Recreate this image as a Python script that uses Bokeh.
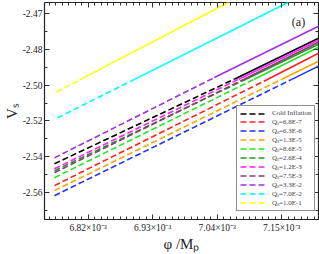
from bokeh.plotting import figure
from bokeh.models import (FixedTicker, LinearAxis, Label, Legend, LegendItem,
                          CustomJSTickFormatter, Range1d)
from bokeh.embed import file_html
from bokeh.resources import INLINE

# ---- data ----
labels = ["Cold Inflation", "Q\u209b=6.8E-7", "Q\u209b=6.3E-6", "Q\u209b=1.3E-5",
          "Q\u209b=8.6E-5", "Q\u209b=2.6E-4", "Q\u209b=1.2E-3", "Q\u209b=7.5E-3",
          "Q\u209b=3.3E-2", "Q\u209b=7.0E-2", "Q\u209b=1.0E-1"]
colors = ["#000000", "#ff2020", "#2030ff", "#ffa500", "#22e822", "#1f9a1f",
          "#ff20ff", "#884070", "#a030e0", "#00ffff", "#ffff00"]
phi_start = [6.7625e-3, 6.7625e-3, 6.7625e-3, 6.7625e-3, 6.7625e-3, 6.7625e-3,
             6.7625e-3, 6.7625e-3, 6.7625e-3, 6.7675e-3, 6.7659e-3]
phi_switch = [7.069e-3, 7.1246e-3, 7.167e-3, 7.150e-3, 7.103e-3, 7.089e-3,
              7.0766e-3, 7.0856e-3, 7.035e-3, 6.8945e-3, 6.8048e-3]
phi_end = [7.2126e-3] * 11
vs_start = [-2.5439, -2.5561, -2.5617, -2.5589, -2.5517, -2.5478,
            -2.5467, -2.5489, -2.5406, -2.5183, -2.5039]
vs_switch = [-2.4967, -2.4970, -2.4968, -2.4967, -2.4967, -2.4967,
             -2.4967, -2.4967, -2.4958, -2.4975, -2.4972]
vs_end = [-2.4739, -2.4822, -2.4894, -2.4867, -2.4789, -2.4772,
          -2.4750, -2.4761, -2.4672, -2.4453, -2.4276]

x_major = [6.82e-3, 6.93e-3, 7.04e-3, 7.15e-3]
y_major = [-2.46, -2.48, -2.50, -2.52, -2.54, -2.56]

FONT = "Liberation Serif"
INK = "#222222"

p = figure(width=319, height=254, output_backend="svg", toolbar_location=None,
           x_range=Range1d(6.7456e-3, 7.2126e-3), y_range=Range1d(-2.575, -2.4539),
           min_border_left=42, min_border_right=1, min_border_top=2, min_border_bottom=34,
           x_axis_location=None, y_axis_location=None)
p.xgrid.visible = False
p.ygrid.visible = False
p.outline_line_color = INK
p.outline_line_width = 1.2
p.background_fill_color = "white"
p.border_fill_color = "white"

x_minor = [6.82e-3 + i * 0.011e-3 for i in range(-7, 36)]
y_minor = [-2.45 - i * 0.01 for i in range(0, 13)]
xt = FixedTicker(ticks=x_major, minor_ticks=x_minor)
yt = FixedTicker(ticks=y_major, minor_ticks=y_minor)

xfmt = CustomJSTickFormatter(code="return (tick*1000).toFixed(2) + '\u00d710\u207b\u00b3';")
yfmt = CustomJSTickFormatter(code="return tick > -2.465 ? '-2.47' : tick.toFixed(2);")
blank = CustomJSTickFormatter(code="return '';")

def style(ax, show_labels):
    ax.axis_line_color = None
    ax.major_tick_in = 5
    ax.major_tick_out = 0
    ax.minor_tick_in = 3
    ax.minor_tick_out = 0
    ax.major_tick_line_color = "#333333"
    ax.minor_tick_line_color = "#333333"
    ax.major_label_text_font = FONT
    ax.major_label_text_color = INK
    ax.major_label_text_line_height = 1.0
    ax.axis_label_text_font = FONT
    ax.axis_label_text_font_style = "normal"
    ax.axis_label_text_color = INK
    ax.axis_label_text_line_height = 1.0
    if show_labels:
        ax.major_label_text_font_size = "9.5px"
        ax.major_label_standoff = 2
    else:
        ax.major_label_text_font_size = "1px"
        ax.major_label_standoff = 0

xb = LinearAxis(ticker=xt, formatter=xfmt, axis_label="\u03c6 /M\u209a")
style(xb, True)
xb.axis_label_text_font_size = "15px"
xb.axis_label_standoff = 0
xb.major_label_standoff = 3
p.add_layout(xb, "below")
xa = LinearAxis(ticker=xt, formatter=blank)
style(xa, False)
p.add_layout(xa, "above")
yl = LinearAxis(ticker=yt, formatter=yfmt, axis_label="V\u209b")
style(yl, True)
yl.axis_label_text_font_size = "15px"
yl.axis_label_standoff = 0
p.add_layout(yl, "left")
yr = LinearAxis(ticker=yt, formatter=blank)
style(yr, False)
p.add_layout(yr, "right")

items = []
for i in range(len(labels)):
    r = p.line([phi_start[i], phi_switch[i]], [vs_start[i], vs_switch[i]],
               line_color=colors[i], line_width=1.6, line_dash="6 3")
    p.line([phi_switch[i], phi_end[i]], [vs_switch[i], vs_end[i]],
           line_color=colors[i], line_width=1.6)
    items.append(LegendItem(label=labels[i], renderers=[r]))

legend = Legend(items=items, location=(192, 8))
legend.label_text_font = FONT
legend.label_text_font_size = "7px"
legend.label_height = 7
legend.glyph_height = 7
legend.glyph_width = 26
legend.spacing = 0
legend.padding = 3
legend.margin = 0
legend.label_standoff = 6
legend.border_line_color = INK
legend.border_line_width = 1
legend.background_fill_alpha = 1.0
p.add_layout(legend, "center")

p.add_layout(Label(x=254, y=198, x_units="screen", y_units="screen", text="(a)",
                   text_font=FONT, text_font_size="12px", text_align="center",
                   text_baseline="middle", text_color=INK))

open("out.html", "w").write(file_html(p, INLINE))
